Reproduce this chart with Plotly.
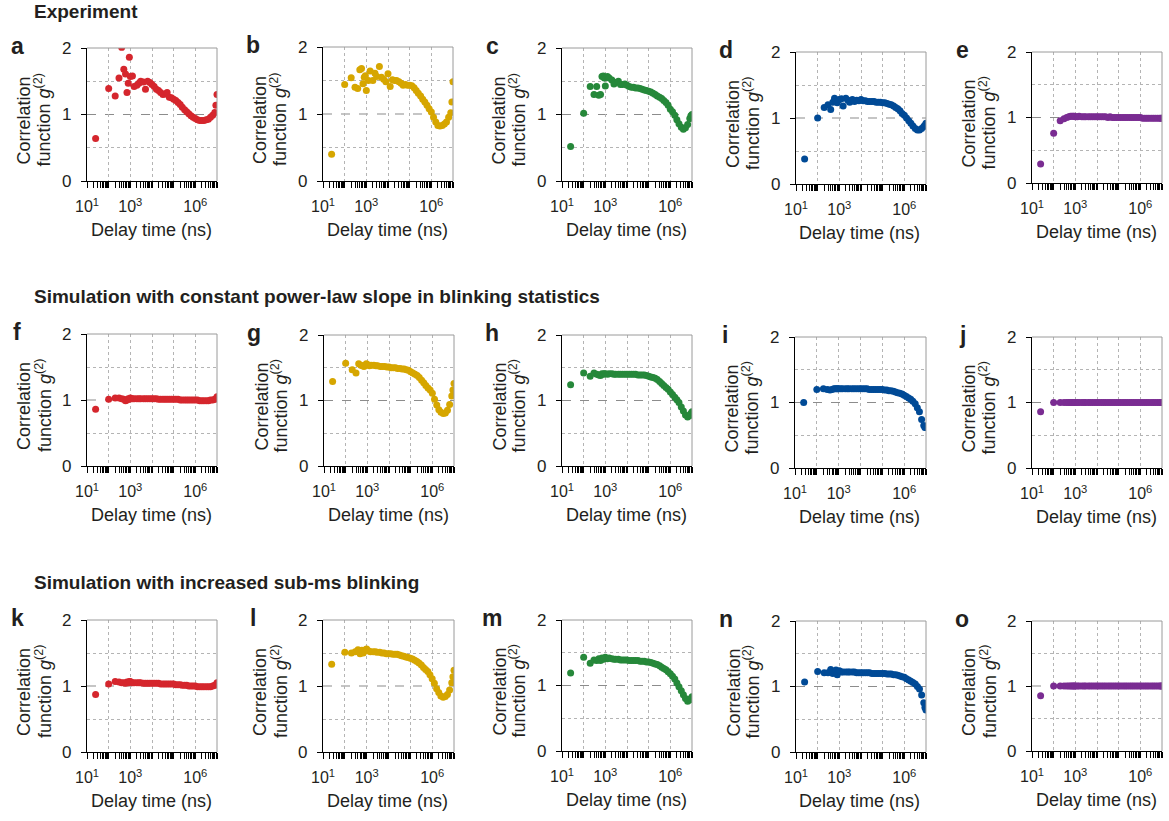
import plotly.graph_objects as go

# ---------------- data ----------------
TAU_NS = [25, 100, 200, 300, 400, 500, 600, 700, 800, 900,
          1000, 1250, 1500, 2000, 2500, 3000, 4000, 5000, 6300, 8000,
          1.0e4, 1.26e4, 1.6e4, 2.0e4, 2.5e4, 3.2e4, 4.0e4, 5.0e4, 6.3e4, 7.9e4,
          1.0e5, 1.26e5, 1.6e5, 2.0e5, 2.5e5, 3.2e5, 4.0e5, 5.0e5, 6.3e5, 7.9e5,
          1.0e6, 1.26e6, 1.6e6, 2.0e6, 2.5e6, 3.2e6, 4.0e6, 5.0e6, 6.3e6, 7.9e6,
          8.9e6, 1.0e7]

G2_A = [0.64, 1.39, 1.28, 1.55, 2.01, 1.68, 1.61, 1.33, 1.47, 1.86,
        1.57, 1.58, 1.42, 1.44, 1.47, 1.50, 1.49, 1.38, 1.50, 1.48,
        1.45, 1.42, 1.38, 1.36, 1.33, 1.30, 1.31, 1.33, 1.26, 1.25,
        1.23, 1.21, 1.18, 1.15, 1.11, 1.07, 1.04, 1.01, 0.98, 0.96,
        0.94, 0.92, 0.91, 0.91, 0.91, 0.92, 0.93, 0.96, 0.99, 1.03,
        1.14, 1.30]
G2_B = [0.40, 1.44, 1.54, 1.40, 1.38, 1.66, 1.68, 1.45, 1.55, 1.57,
        1.35, 1.50, 1.64, 1.50, 1.61, 1.56, 1.71, 1.55, 1.52, 1.48,
        1.60, 1.41, 1.51, 1.50, 1.50, 1.48, 1.46, 1.43, 1.44, 1.43,
        1.43, 1.42, 1.39, 1.35, 1.31, 1.27, 1.22, 1.18, 1.13, 1.08,
        1.03, 0.95, 0.88, 0.83, 0.82, 0.83, 0.85, 0.88, 0.95, 1.02,
        1.18, 1.48]
G2_C = [0.52, 1.02, 1.42, 1.30, 1.42, 1.29, 1.30, 1.57, 1.58, 1.55,
        1.43, 1.57, 1.55, 1.52, 1.46, 1.48, 1.50, 1.45, 1.45, 1.46,
        1.44, 1.42, 1.41, 1.41, 1.40, 1.40, 1.39, 1.38, 1.37, 1.36,
        1.35, 1.34, 1.32, 1.30, 1.28, 1.26, 1.24, 1.21, 1.18, 1.14,
        1.08, 1.04, 0.99, 0.92, 0.86, 0.81, 0.78, 0.80, 0.85, 0.94,
        0.98, 1.00]
G2_D = [0.38, 1.00, 1.16, 1.20, 1.13, 1.24, 1.30, 1.25, 1.23, 1.27,
        1.28, 1.29, 1.18, 1.30, 1.27, 1.24, 1.28, 1.25, 1.27, 1.26,
        1.28, 1.26, 1.26, 1.25, 1.25, 1.25, 1.25, 1.24, 1.24, 1.24,
        1.23, 1.23, 1.22, 1.21, 1.20, 1.18, 1.16, 1.14, 1.11, 1.07,
        1.04, 1.00, 0.96, 0.92, 0.88, 0.84, 0.82, 0.82, 0.84, 0.87,
        0.89, 0.92]
G2_E = [0.29, 0.76, 0.95, 0.98, 1.00, 1.01, 1.02, 1.02, 1.02, 1.02,
        1.01, 1.01, 1.02, 1.01, 1.01, 1.01, 1.01, 1.01, 1.01, 1.01,
        1.01, 1.01, 1.01, 1.01, 1.01, 1.00, 1.01, 1.00, 1.00, 1.00,
        1.00, 1.00, 1.00, 1.00, 1.00, 1.00, 1.00, 1.00, 1.00, 1.00,
        1.00, 0.99, 0.99, 0.99, 0.99, 0.99, 0.99, 0.99, 0.99, 0.99,
        0.99, 0.99]
G2_F = [0.86, 1.01, 1.03, 1.03, 1.02, 1.01, 0.99, 1.00, 1.02, 1.01,
        1.03, 1.02, 1.02, 1.02, 1.02, 1.02, 1.02, 1.02, 1.02, 1.02,
        1.02, 1.02, 1.02, 1.01, 1.01, 1.01, 1.01, 1.01, 1.01, 1.01,
        1.01, 1.01, 1.01, 1.00, 1.00, 1.00, 1.00, 1.00, 1.00, 1.00,
        1.00, 1.00, 0.99, 0.99, 0.99, 0.99, 0.99, 1.00, 1.00, 1.01,
        1.02, 1.05]
G2_G = [1.29, 1.57, 1.47, 1.42, 1.56, 1.54, 1.53, 1.52, 1.54, 1.56,
        1.55, 1.53, 1.54, 1.54, 1.53, 1.53, 1.52, 1.52, 1.52, 1.51,
        1.51, 1.50, 1.50, 1.50, 1.49, 1.49, 1.48, 1.48, 1.47, 1.46,
        1.44, 1.42, 1.40, 1.38, 1.35, 1.31, 1.27, 1.23, 1.19, 1.16,
        1.11, 1.02, 0.93, 0.86, 0.82, 0.80, 0.81, 0.85, 0.94, 1.07,
        1.16, 1.26]
G2_H = [1.24, 1.42, 1.37, 1.42, 1.40, 1.39, 1.38, 1.41, 1.40, 1.41,
        1.41, 1.40, 1.41, 1.41, 1.40, 1.40, 1.40, 1.40, 1.40, 1.40,
        1.40, 1.40, 1.40, 1.40, 1.40, 1.39, 1.39, 1.39, 1.39, 1.38,
        1.37, 1.36, 1.35, 1.34, 1.32, 1.29, 1.26, 1.23, 1.20, 1.17,
        1.13, 1.09, 1.05, 1.01, 0.97, 0.90, 0.84, 0.78, 0.75, 0.77,
        0.80, 0.83]
G2_I = [1.00, 1.20, 1.21, 1.20, 1.19, 1.20, 1.21, 1.21, 1.21, 1.21,
        1.21, 1.21, 1.21, 1.21, 1.21, 1.21, 1.21, 1.21, 1.21, 1.21,
        1.21, 1.21, 1.21, 1.21, 1.20, 1.20, 1.20, 1.20, 1.20, 1.20,
        1.20, 1.19, 1.19, 1.18, 1.18, 1.17, 1.16, 1.15, 1.14, 1.13,
        1.11, 1.09, 1.07, 1.05, 1.02, 0.98, 0.92, 0.86, 0.74, 0.65,
        0.62, 0.62]
G2_J = [0.86, 1.00, 1.00, 1.00, 1.00, 1.00, 1.00, 1.00, 1.00, 1.00,
        1.00, 1.00, 1.00, 1.00, 1.00, 1.00, 1.00, 1.00, 1.00, 1.00,
        1.00, 1.00, 1.00, 1.00, 1.00, 1.00, 1.00, 1.00, 1.00, 1.00,
        1.00, 1.00, 1.00, 1.00, 1.00, 1.00, 1.00, 1.00, 1.00, 1.00,
        1.00, 1.00, 1.00, 1.00, 1.00, 1.00, 1.00, 1.00, 1.00, 1.00,
        1.00, 1.00]
G2_K = [0.87, 1.03, 1.07, 1.06, 1.05, 1.05, 1.04, 1.06, 1.05, 1.07,
        1.07, 1.05, 1.05, 1.05, 1.05, 1.05, 1.04, 1.04, 1.04, 1.04,
        1.04, 1.04, 1.04, 1.04, 1.03, 1.03, 1.03, 1.03, 1.03, 1.03,
        1.03, 1.02, 1.02, 1.02, 1.01, 1.01, 1.01, 1.00, 1.00, 1.00,
        1.00, 0.99, 0.99, 0.99, 0.99, 0.99, 0.99, 0.99, 1.00, 1.01,
        1.02, 1.05]
G2_L = [1.33, 1.51, 1.50, 1.52, 1.55, 1.49, 1.54, 1.50, 1.54, 1.55,
        1.56, 1.53, 1.52, 1.52, 1.52, 1.51, 1.51, 1.50, 1.50, 1.49,
        1.49, 1.49, 1.48, 1.48, 1.48, 1.47, 1.46, 1.45, 1.44, 1.43,
        1.42, 1.41, 1.39, 1.37, 1.35, 1.32, 1.28, 1.25, 1.22, 1.17,
        1.11, 1.04, 0.96, 0.90, 0.85, 0.83, 0.84, 0.87, 0.94, 1.05,
        1.14, 1.24]
G2_M = [1.19, 1.43, 1.34, 1.39, 1.38, 1.41, 1.38, 1.42, 1.40, 1.41,
        1.43, 1.41, 1.42, 1.41, 1.40, 1.40, 1.40, 1.39, 1.39, 1.39,
        1.39, 1.38, 1.38, 1.38, 1.38, 1.38, 1.37, 1.37, 1.37, 1.36,
        1.36, 1.35, 1.34, 1.33, 1.32, 1.30, 1.28, 1.26, 1.24, 1.21,
        1.18, 1.14, 1.10, 1.04, 0.98, 0.92, 0.86, 0.80, 0.76, 0.78,
        0.80, 0.83]
G2_N = [1.07, 1.23, 1.21, 1.21, 1.26, 1.20, 1.22, 1.25, 1.18, 1.23,
        1.24, 1.22, 1.22, 1.22, 1.22, 1.22, 1.22, 1.22, 1.21, 1.21,
        1.21, 1.21, 1.21, 1.21, 1.21, 1.20, 1.20, 1.20, 1.20, 1.20,
        1.20, 1.20, 1.19, 1.19, 1.19, 1.18, 1.18, 1.17, 1.16, 1.15,
        1.14, 1.12, 1.10, 1.08, 1.06, 1.04, 1.00, 0.96, 0.87, 0.75,
        0.68, 0.64]
G2_O = [0.85, 1.00, 1.00, 1.00, 1.00, 1.00, 1.00, 1.00, 1.00, 1.00,
        1.00, 1.00, 1.00, 1.00, 1.00, 1.00, 1.00, 1.00, 1.00, 1.00,
        1.00, 1.00, 1.00, 1.00, 1.00, 1.00, 1.00, 1.00, 1.00, 1.00,
        1.00, 1.00, 1.00, 1.00, 1.00, 1.00, 1.00, 1.00, 1.00, 1.00,
        1.00, 1.00, 1.00, 1.00, 1.00, 1.00, 1.00, 1.00, 1.00, 1.00,
        1.00, 1.00]

LETTERS = ["a", "b", "c", "d", "e", "f", "g", "h", "i", "j", "k", "l", "m", "n", "o"]
SERIES = [G2_A, G2_B, G2_C, G2_D, G2_E, G2_F, G2_G, G2_H, G2_I, G2_J,
          G2_K, G2_L, G2_M, G2_N, G2_O]
SECTION_TITLES = ["Experiment",
                  "Simulation with constant power-law slope in blinking statistics",
                  "Simulation with increased sub-ms blinking"]
X_TICK_VALS = [1e1, 1e2, 1e3, 1e4, 1e5, 1e6, 1e7]
X_TICK_TEXT = ["10<sup>1</sup>", "", "10<sup>3</sup>", "", "", "10<sup>6</sup>", ""]
X_MINOR_VALS = [k * 10 ** d for d in range(1, 7) for k in range(2, 10)]
Y_TICK_VALS = [0, 1, 2]
Y_TICK_TEXT = ["0", "1", "2"]

# ---------------- style / layout ----------------
COLORS = ["#D5262D", "#D6A600", "#26883A", "#004A96", "#7A2C92"]
W, H = 1169, 821
FONT = "Liberation Sans, Arial, Helvetica, sans-serif"
TXT = "#231f20"
GRID = "#b4b4b4"

BOXES = [
    (87, 48, 217, 181), (323, 47, 453, 181), (562, 48, 692, 181), (796, 52, 926, 184), (1032, 52, 1162, 183),
    (87, 334, 217, 466), (324, 335, 454, 466), (562, 335, 692, 466), (795, 337, 926, 468), (1032, 337, 1162, 468),
    (87, 620, 217, 752), (323, 620, 454, 752), (562, 620, 692, 751), (796, 621, 926, 752), (1032, 621, 1162, 751),
]
SECTION_Y = [11, 296, 582]


def px(x):
    return x / W


def py(y):
    return 1 - y / H


fig = go.Figure()
layout = {}
shapes = []
annotations = []

for i, (letter, vals) in enumerate(zip(LETTERS, SERIES)):
    n = i + 1
    sx = "" if n == 1 else str(n)
    color = COLORS[i % 5]
    l, t, r, b = BOXES[i]
    fig.add_trace(go.Scatter(
        x=TAU_NS, y=vals, mode="markers",
        marker=dict(color=color, size=7, line=dict(width=0)),
        xaxis="x" + sx, yaxis="y" + sx, showlegend=False, hoverinfo="skip"))

    layout["xaxis" + sx] = dict(
        domain=[px(l), px(r)], anchor="y" + sx, type="log", range=[1, 7],
        tickmode="array", tickvals=X_TICK_VALS, ticktext=X_TICK_TEXT,
        ticks="outside", ticklen=6, tickwidth=1, tickcolor="black",
        showline=True, linecolor="black", linewidth=1.2,
        showgrid=True, gridcolor=GRID, griddash="dot", gridwidth=1,
        minor=dict(tickvals=X_MINOR_VALS, ticks="outside", ticklen=6, tickwidth=1,
                   tickcolor="black", showgrid=False),
        tickfont=dict(family=FONT, size=16, color=TXT), ticklabelstandoff=5,
        zeroline=False, fixedrange=True, automargin=False)
    layout["yaxis" + sx] = dict(
        domain=[py(b), py(t)], anchor="x" + sx, range=[0, 2],
        tickmode="array", tickvals=Y_TICK_VALS, ticktext=Y_TICK_TEXT,
        ticks="outside", ticklen=5, tickwidth=1, tickcolor="black",
        showline=True, linecolor="black", linewidth=1.2,
        showgrid=False, zeroline=False,
        minor=dict(tickvals=[0.5, 1.5], ticks="", showgrid=True, gridcolor=GRID,
                   griddash="dot", gridwidth=1),
        tickfont=dict(family=FONT, size=17, color=TXT), ticklabelstandoff=6,
        fixedrange=True, automargin=False)

    xd = "x" + sx + " domain"
    yd = "y" + sx + " domain"
    shapes.append(dict(type="line", xref=xd, yref="y" + sx, x0=0, x1=1, y0=1, y1=1,
                       line=dict(color="#8c8c8c", width=1.2, dash="dash"), layer="below"))
    shapes.append(dict(type="line", xref=xd, yref=yd, x0=0, x1=1, y0=1, y1=1,
                       line=dict(color="#9a9a9a", width=1), layer="above"))
    shapes.append(dict(type="line", xref=xd, yref=yd, x0=1, x1=1, y0=0, y1=1,
                       line=dict(color="#9a9a9a", width=1), layer="above"))

    cy = (t + b) / 2 + 6
    annotations.append(dict(text="Correlation", x=px(l - 63), y=py(cy), xref="paper", yref="paper",
                            textangle=-90, showarrow=False, xanchor="center", yanchor="middle",
                            font=dict(family=FONT, size=18, color=TXT)))
    annotations.append(dict(text="function <i>g</i><sup>(2)</sup>", x=px(l - 44), y=py(cy),
                            xref="paper", yref="paper", textangle=-90, showarrow=False,
                            xanchor="center", yanchor="middle",
                            font=dict(family=FONT, size=18, color=TXT)))
    annotations.append(dict(text="Delay time (ns)", x=px((l + r) / 2 - 1), y=py(b + 49),
                            xref="paper", yref="paper", showarrow=False,
                            xanchor="center", yanchor="middle",
                            font=dict(family=FONT, size=18, color=TXT)))
    annotations.append(dict(text="<b>%s</b>" % letter, x=px(l - 70), y=py(t - 2),
                            xref="paper", yref="paper", showarrow=False,
                            xanchor="center", yanchor="middle",
                            font=dict(family=FONT, size=23, color=TXT)))

for title, y in zip(SECTION_TITLES, SECTION_Y):
    annotations.append(dict(text="<b>%s</b>" % title, x=px(32), y=py(y), xref="paper", yref="paper",
                            showarrow=False, xanchor="left", yanchor="middle",
                            font=dict(family=FONT, size=19, color=TXT)))

fig.update_layout(**layout)
fig.update_layout(width=W, height=H,
                  margin=dict(l=0, r=0, t=0, b=0, pad=0, autoexpand=False),
                  paper_bgcolor="white", plot_bgcolor="white",
                  shapes=shapes, annotations=annotations, showlegend=False,
                  font=dict(family=FONT, color=TXT))
fig.write_html("out.html", config={"displayModeBar": False},
               post_script="document.body.style.margin='0px';document.body.style.padding='0px';")
